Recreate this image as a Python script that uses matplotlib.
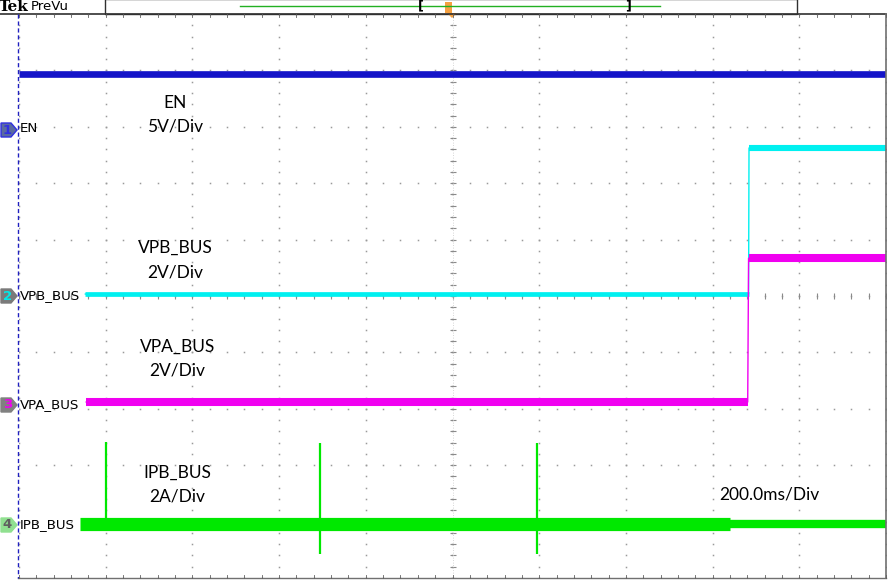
import numpy as np
import matplotlib
matplotlib.use("Agg")
import matplotlib.pyplot as plt
from matplotlib.patches import Polygon, Rectangle

# channel data (time in s, 200 ms/div, trigger at 0)
en_t = [-1.0, 1.0]
en_v = [5.0, 5.0]

vpb_t = [-0.847, 0.683, 0.684, 1.0]
vpb_v = [0.07, 0.07, 5.25, 5.25]

vpa_t = [-0.845, 0.681, 0.683, 1.0]
vpa_v = [0.10, 0.10, 5.20, 5.20]

ipb_t = [-0.86, 0.641]
ipb_v = [0.0, 0.0]
ipb_tail_t = [0.641, 1.0]
ipb_tail_v = [0.0, 0.0]
spike_t = [-0.800, -0.305, 0.196]
spike_hi = [2.90, 2.85, 2.85]
spike_lo = [0.0, -1.06, -1.06]

# scale (units/div) and ground offset (div) for each channel
scales = {"EN": 5.0, "VPB_BUS": 2.0, "VPA_BUS": 2.0, "IPB_BUS": 2.0}
offsets = {"EN": 2.94, "VPB_BUS": 0.0, "VPA_BUS": -1.93, "IPB_BUS": -4.04}
colors = {"EN": "#1414C8", "VPB_BUS": "#00F0F0", "VPA_BUS": "#F000F0", "IPB_BUS": "#00E800"}

def div(name, vals):
    return np.array(vals) / scales[name] + offsets[name]

W, H = 889, 582
fig = plt.figure(figsize=(W / 100, H / 100), dpi=100)
ax = fig.add_axes([19 / W, 4 / H, 867 / W, 564 / H])
ax.set_xlim(-1, 1)
ax.set_ylim(-5, 5)
ax.axis("off")

# graticule dots
gc = "#9A9A9A"
for gx in np.arange(-1, 1.01, 0.2):
    ys = np.arange(-5, 5.01, 0.2)
    ax.plot(np.full_like(ys, gx), ys, ls="none", marker="s", ms=1.1, mec="none", mfc=gc, zorder=1)
for gy in np.arange(-5, 5.01, 1):
    xs = np.arange(-1, 1.01, 0.04)
    ax.plot(xs, np.full_like(xs, gy), ls="none", marker="s", ms=1.1, mec="none", mfc=gc, zorder=1)
# center cross with ticks
xs = np.arange(-1, 1.01, 0.04)
ax.plot(xs, np.zeros_like(xs), ls="none", marker="|", ms=4, mew=0.8, color="#8A8A8A", zorder=1)
ys = np.arange(-5, 5.01, 0.2)
ax.plot(np.zeros_like(ys), ys, ls="none", marker="_", ms=5, mew=0.8, color="#8A8A8A", zorder=1)
ax.plot([0, 0], [-5, 5], color="#C8C8C8", lw=0.6, ls=(0, (1, 2)), zorder=1)

# traces
ax.plot(en_t, div("EN", en_v), color=colors["EN"], lw=4.8, solid_capstyle="butt", zorder=3)
ax.plot(vpb_t, div("VPB_BUS", vpb_v), color=colors["VPB_BUS"], lw=1.0, zorder=3)
ax.plot(vpb_t[:2], div("VPB_BUS", vpb_v[:2]), color=colors["VPB_BUS"], lw=3.4, solid_capstyle="butt", zorder=3)
ax.plot(vpb_t[2:], div("VPB_BUS", vpb_v[2:]), color=colors["VPB_BUS"], lw=4.4, solid_capstyle="butt", zorder=3)
ax.plot(vpa_t, div("VPA_BUS", vpa_v), color=colors["VPA_BUS"], lw=1.0, zorder=3)
ax.plot(vpa_t[:2], div("VPA_BUS", vpa_v[:2]), color=colors["VPA_BUS"], lw=5.8, solid_capstyle="butt", zorder=3)
ax.plot(vpa_t[2:], div("VPA_BUS", vpa_v[2:]), color=colors["VPA_BUS"], lw=5.8, solid_capstyle="butt", zorder=3)
ax.plot(ipb_t, div("IPB_BUS", ipb_v), color=colors["IPB_BUS"], lw=9.5, solid_capstyle="butt", zorder=3)
ax.plot(ipb_tail_t, div("IPB_BUS", ipb_tail_v), color=colors["IPB_BUS"], lw=6.0, solid_capstyle="butt", zorder=3)
ax.vlines(spike_t, div("IPB_BUS", spike_lo), div("IPB_BUS", spike_hi), color=colors["IPB_BUS"], lw=1.6, zorder=3)

# annotations
tf = dict(family="Lato", fontsize=12.5, color="black", ha="center", va="center")
for name, unit, t, y1 in [("EN", "5V/Div", -0.64, 103), ("VPB_BUS", "2V/Div", -0.64, 248),
                           ("VPA_BUS", "2V/Div", -0.635, 347), ("IPB_BUS", "2A/Div", -0.635, 473)]:
    ax.text(t, (296 - y1) / 56.4, name, **tf)
    ax.text(t, (296 - y1 - 24) / 56.4, unit, **tf)
ax.text(0.73, (296 - 494) / 56.4, "200.0ms/Div", **tf)

# overlay in pixel coordinates: frame, header, channel markers
ov = fig.add_axes([0, 0, 1, 1], zorder=5)
ov.set_xlim(0, W)
ov.set_ylim(H, 0)
ov.axis("off")
ov.patch.set_alpha(0)
ov.plot([0, 886], [14, 14], color="#303030", lw=1.2)
ov.plot([886, 886], [14, 578], color="#707070", lw=1.2)
ov.plot([18, 886], [578, 578], color="#707070", lw=1.0)
ov.plot([18, 18], [14, 578], color="#2020C0", lw=1.0, ls=(0, (3, 2)))
for tx in np.arange(19, 887, 17.34):
    ov.plot([tx, tx], [14, 17], color="#606060", lw=0.6)
    ov.plot([tx, tx], [575, 578], color="#606060", lw=0.6)

ov.text(-1, 7, "Tek", family="DejaVu Serif", fontsize=11, fontweight="bold", va="center", ha="left")
ov.text(31, 6.5, "PreVu", family="DejaVu Sans", fontsize=9.5, va="center", ha="left")
ov.add_patch(Rectangle((105, -1), 692, 15, fill=False, ec="#303030", lw=1.0))
ov.plot([240, 660], [6, 6], color="#22B022", lw=1.0)
ov.text(421, 6, "[", fontsize=9, va="center", ha="center", fontweight="bold")
ov.text(628, 6, "]", fontsize=9, va="center", ha="center", fontweight="bold")
ov.add_patch(Rectangle((445, 2), 7, 11, color="#F5A040", lw=0))
ov.add_patch(Polygon([[447, 13], [457, 13], [452, 18]], closed=True, color="#F5A040", lw=0))

markers = [("1", 130, "#5A6AA0", "#3030E0", "#3030E0"), ("2", 296, "#7A7A7A", "#00E8E8", "#7A7A7A"),
           ("3", 405, "#808080", "#F000F0", "#808080"), ("4", 525, "#90E090", "#606060", "#90E090")]
for num, my, fc, tc, ec in markers:
    ov.add_patch(Polygon([[1, my - 7], [11, my - 7], [17, my], [11, my + 7], [1, my + 7]],
                         closed=True, fc=fc, ec=ec, lw=1.0))
    ov.text(7.5, my, num, fontsize=9.5, color=tc, ha="center", va="center", fontweight="bold")

lf = dict(family="DejaVu Sans", fontsize=9.6, color="black", va="center", ha="left")
ov.text(20, 129, "EN", **lf)
ov.text(20, 296, "VPB_BUS", **lf)
ov.text(20, 405, "VPA_BUS", **lf)
ov.text(20, 525, "IPB_BUS", **lf)

fig.savefig("out.png", dpi=100)
